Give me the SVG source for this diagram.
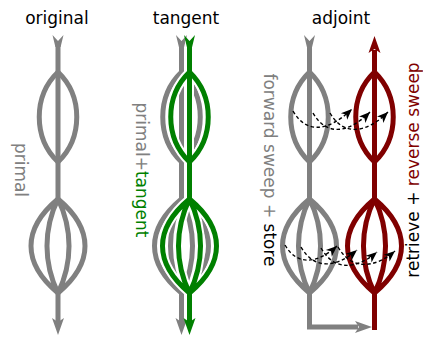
<svg xmlns="http://www.w3.org/2000/svg" width="423" height="337" viewBox="0 0 423 337">
<style>
text{font-family:"DejaVu Sans",sans-serif;font-size:17px;fill:#000}
.g{fill:none;stroke:#808080;stroke-width:5}
.gr{fill:none;stroke:#008000;stroke-width:5}
.halo{fill:none;stroke:#fff;stroke-width:9}
.r{fill:none;stroke:#800000;stroke-width:5}
.fg{fill:#808080}
.fgr{fill:#008000}
.fr{fill:#800000}
.dash{fill:none;stroke:#000;stroke-width:1.4;stroke-dasharray:3.5 2.5;marker-end:url(#ah)}
</style>
<defs>
<path id="lens1" d="M0,0 C-25,24 -25,66 0,90 M0,0 C25,24 25,66 0,90"/>
<path id="lens2" d="M0,0 C-36,30 -36,64 0,94 M0,0 C36,30 36,64 0,94 M0,0 C-14.7,30 -14.7,64 0,94 M0,0 C14.7,30 14.7,64 0,94"/>
<path id="head" d="M0,0 L-6,-17 L0,-13 L6,-17 Z"/>
<path id="tail" d="M-5.5,-6 L0,0 L5.5,-6 L2.6,6 L-2.6,6 Z"/>
<marker id="ah" markerUnits="userSpaceOnUse" markerWidth="14" markerHeight="12" viewBox="-12 -6 14 12" refX="0" refY="0" orient="auto">
<path d="M0,0 L-11,-4.5 L-8,0 L-11,4.5 Z" fill="#000"/>
</marker>
</defs>

<g id="original">
<text x="57" y="24" text-anchor="middle">original</text>
<use href="#tail" class="fg" x="58" y="41"/>
<path class="g" d="M58,41 V199 M58,293 V322"/>
<use href="#lens1" class="g" x="58" y="72"/>
<use href="#lens2" class="g" x="58" y="199"/>
<use href="#head" class="fg" x="58" y="335"/>
<text transform="translate(15,170) rotate(90)" text-anchor="middle" style="fill:#808080">primal</text>
</g>

<g id="tangent">
<text x="186" y="24" text-anchor="middle">tangent</text>
<use href="#tail" class="fg" x="181.5" y="41"/>
<path class="g" d="M181.5,41 V199 M181.5,293 V322"/>
<use href="#lens1" class="g" x="181.5" y="72"/>
<use href="#lens2" class="g" x="181.5" y="199"/>
<use href="#head" class="fg" x="181.5" y="335"/>
<g class="halo">
<path d="M189.5,41 V199 M189.5,293 V322"/>
<use href="#lens1" x="189.5" y="72"/>
<use href="#lens2" x="189.5" y="199"/>
</g>
<use href="#tail" class="fgr" x="189.5" y="41"/>
<g class="gr">
<path d="M189.5,41 V199 M189.5,293 V322"/>
<use href="#lens1" x="189.5" y="72"/>
<use href="#lens2" x="189.5" y="199"/>
</g>
<use href="#head" class="fgr" x="189.5" y="335"/>
<text transform="translate(135.5,170) rotate(90)" text-anchor="middle"><tspan style="fill:#808080">primal+</tspan><tspan style="fill:#008000">tangent</tspan></text>
</g>

<g id="adjoint">
<text x="341" y="24" text-anchor="middle">adjoint</text>
<use href="#tail" class="fg" x="309.5" y="41"/>
<path class="g" d="M309.5,41 V199 M309.5,293 V327 H358" stroke-linejoin="miter"/>
<use href="#lens1" class="g" x="309.5" y="72"/>
<use href="#lens2" class="g" x="309.5" y="199"/>
<use href="#head" class="fg" transform="translate(372,327) rotate(-90)"/>
<path class="r" d="M374.5,330 V293 M374.5,199 V50"/>
<use href="#lens1" class="r" x="374.5" y="72"/>
<use href="#lens2" class="r" x="374.5" y="199"/>
<use href="#head" class="fr" transform="translate(374.5,36) rotate(180)"/>
<text transform="translate(263.5,170) rotate(90)" text-anchor="middle"><tspan style="fill:#808080">forward sweep + </tspan><tspan>store</tspan></text>
<text transform="translate(419,170) rotate(-90)" text-anchor="middle"><tspan>retrieve + </tspan><tspan style="fill:#800000">reverse sweep</tspan></text>
</g>

<g id="connectors">
<path class="dash" d="M293,111 C306,134 328,132 352,109"/>
<path class="dash" d="M313,113 C326,136 348,134 370,112"/>
<path class="dash" d="M330,113 C343,136 366,134 388,112"/>
<path class="dash" d="M285,245 C297,266 317,264 337,246"/>
<path class="dash" d="M301,247 C314,270 336,268 357,250"/>
<path class="dash" d="M321,248 C334,271 356,270 377,252"/>
<path class="dash" d="M338,247 C351,270 374,269 395,251"/>
</g>
</svg>
